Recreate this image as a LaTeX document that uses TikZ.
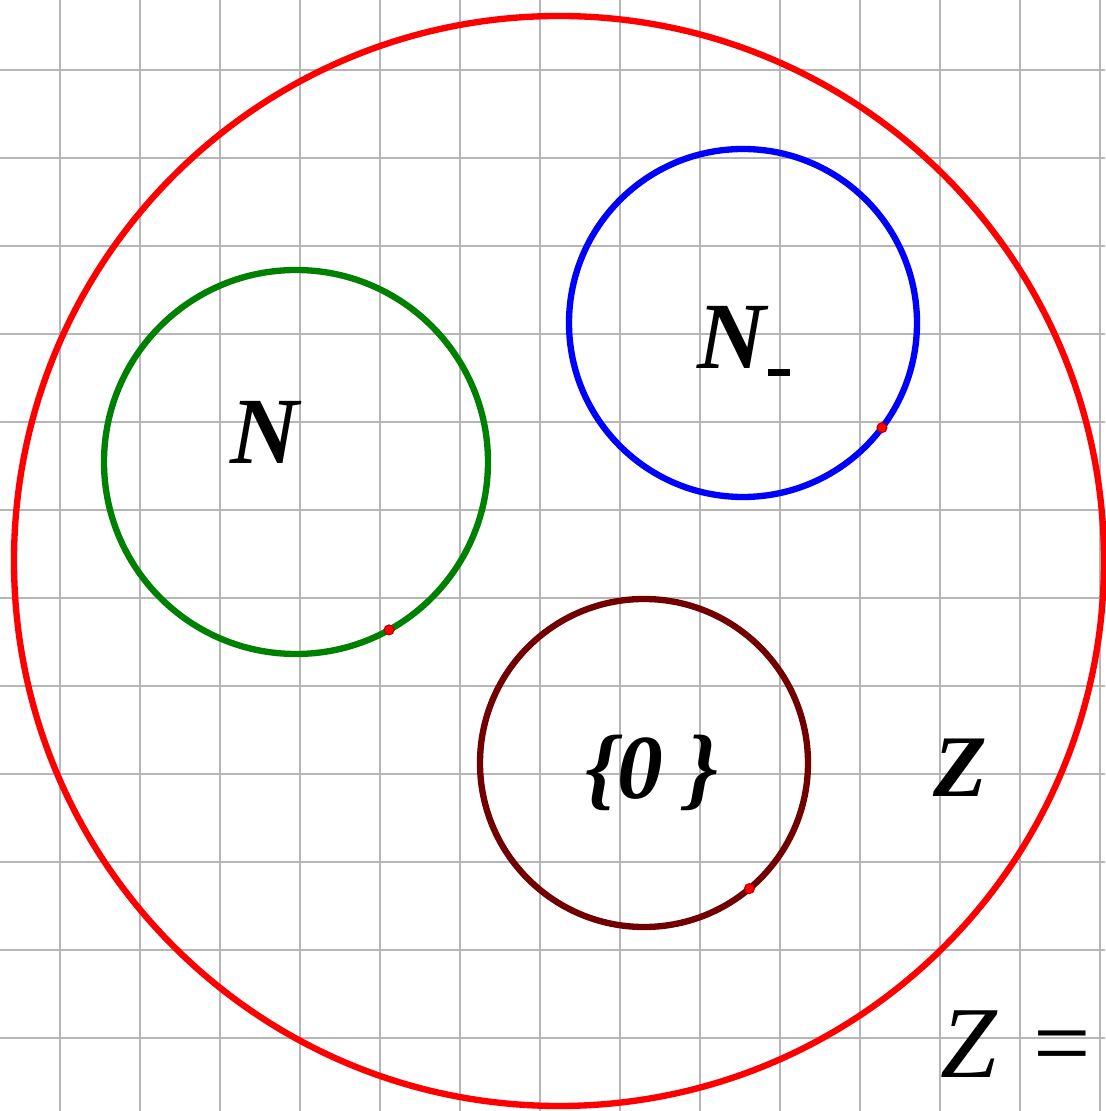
\documentclass[tikz,border=0pt]{standalone}
\usepackage{fontspec}
\setmainfont{Liberation Serif}
\usepackage{tikz}
\usetikzlibrary{calc,positioning}
\definecolor{gridGris}{RGB}{182,182,182}
\definecolor{verdeSet}{RGB}{0,128,0}
\definecolor{azulSet}{RGB}{0,0,255}
\definecolor{rojoSet}{RGB}{255,0,0}
\definecolor{marronSet}{RGB}{115,0,0}

\begin{document}
\begin{tikzpicture}[
    setcirc/.style={circle, draw, line width=1.8pt, inner sep=0pt, outer sep=0pt},
    setdot/.style={circle, fill=rojoSet, draw=rojoSet!70!black, line width=0.3pt,
      inner sep=0pt, minimum size=0.1cm},
    setlabel/.style={font=\bfseries\itshape}]
  \useasboundingbox (0,0) rectangle (11.05,11.11);
  % grid
  \foreach \x in {0,...,13}
    \draw[gridGris, line width=0.65pt] ({0.6+0.8*\x},0) -- ({0.6+0.8*\x},11.11);
  \foreach \y in {0,...,11}
    \draw[gridGris, line width=0.65pt] (0,{0.73+0.88*\y}) -- (11.05,{0.73+0.88*\y});
  % Z (outer set)
  \node[setcirc, draw=rojoSet, minimum size=10.9cm] (zset) at (5.59,5.50) {};
  % N
  \node[setcirc, draw=verdeSet, minimum size=3.84cm] (nset) at (2.96,6.49) {};
  % N_-
  \node[setcirc, draw=azulSet, minimum size=3.48cm] (nneg) at (7.43,7.88) {};
  % {0}
  \node[setcirc, draw=marronSet, minimum size=3.28cm] (zero) at (6.44,3.48) {};
  % points on the circles
  \node[setdot] (pn) at (nset.-61) {};
  \node[setdot] (pneg) at (nneg.-37) {};
  \node[setdot] (pzero) at (zero.-50) {};
  % labels
  \node[setlabel, font=\fontsize{27}{30}\selectfont\bfseries\itshape] (lbln)
    at (2.65,6.79) {N};
  \node[setlabel, font=\fontsize{27}{30}\selectfont\bfseries\itshape] (lblneg)
    at (7.44,7.70) {N\hspace{0.02cm}\rule[-0.07cm]{0.22cm}{0.065cm}};
  \node[setlabel, font=\fontsize{26}{29}\selectfont\bfseries\itshape] (lblzero)
    at (6.52,3.38) {\{0 \}};
  \node[setlabel, font=\fontsize{25}{28}\selectfont\bfseries\itshape] (lblz)
    at (9.60,3.43) {Z};
  \node[font=\fontsize{29}{32}\selectfont] (lbleq)
    at (10.16,0.67) {\textit{Z}\hspace{0.35em}=};
\end{tikzpicture}
\end{document}
